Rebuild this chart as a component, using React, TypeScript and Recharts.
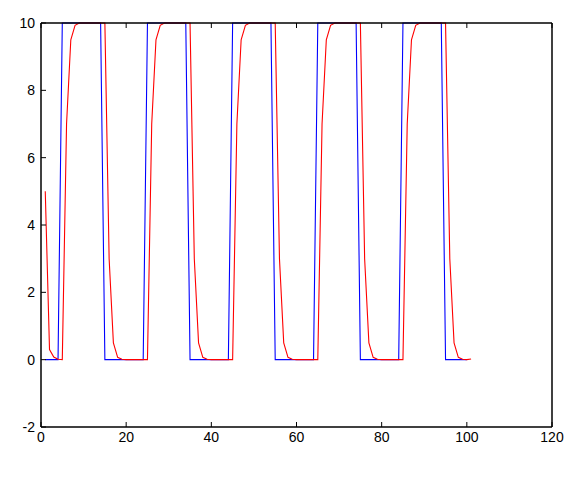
import { LineChart, Line, XAxis, YAxis } from "recharts";

const xTicks = [0, 20, 40, 60, 80, 100, 120];
const yTicks = [-2, 0, 2, 4, 6, 8, 10];

// square wave input, samples at x = 1..100
const blueValues = [
  0, 0, 0, 0,
  10, 10, 10, 10, 10, 10, 10, 10, 10, 10,
  0, 0, 0, 0, 0, 0, 0, 0, 0, 0,
  10, 10, 10, 10, 10, 10, 10, 10, 10, 10,
  0, 0, 0, 0, 0, 0, 0, 0, 0, 0,
  10, 10, 10, 10, 10, 10, 10, 10, 10, 10,
  0, 0, 0, 0, 0, 0, 0, 0, 0, 0,
  10, 10, 10, 10, 10, 10, 10, 10, 10, 10,
  0, 0, 0, 0, 0, 0, 0, 0, 0, 0,
  10, 10, 10, 10, 10, 10, 10, 10, 10, 10,
  0, 0, 0, 0, 0, 0,
];

// lagged response, samples at x = 1..101
const redValues = [
  5, 0.3, 0.08, 0.01, 0,
  7, 9.5, 9.93, 10, 10, 10, 10, 10, 10, 10,
  3, 0.5, 0.07, 0.01, 0, 0, 0, 0, 0, 0,
  7, 9.5, 9.93, 10, 10, 10, 10, 10, 10, 10,
  3, 0.5, 0.07, 0.01, 0, 0, 0, 0, 0, 0,
  7, 9.5, 9.93, 10, 10, 10, 10, 10, 10, 10,
  3, 0.5, 0.07, 0.01, 0, 0, 0, 0, 0, 0,
  7, 9.5, 9.93, 10, 10, 10, 10, 10, 10, 10,
  3, 0.5, 0.07, 0.01, 0, 0, 0, 0, 0, 0,
  7, 9.5, 9.93, 10, 10, 10, 10, 10, 10, 10,
  3, 0.5, 0.07, 0.01, 0, 0.02,
];

const rows = redValues.map((r, i) => ({ x: i + 1, red: r, blue: blueValues[i] }));

const FONT = "'Liberation Sans', Arial, Helvetica, sans-serif";
const TICK = 5;
const frame = { stroke: "#000", strokeWidth: 1.5 };

function BottomTick({ x, y, payload }: any) {
  return (
    <g>
      <line x1={x} y1={y} x2={x} y2={y - TICK} stroke="#000" />
      <text x={x} y={y + 15} textAnchor="middle" fontSize={14} fontFamily={FONT} fill="#000">
        {payload.value}
      </text>
    </g>
  );
}

function LeftTick({ x, y, payload }: any) {
  return (
    <g>
      <line x1={x} y1={y} x2={x + TICK} y2={y} stroke="#000" />
      <text x={x - 6} y={y + 5} textAnchor="end" fontSize={14} fontFamily={FONT} fill="#000">
        {payload.value}
      </text>
    </g>
  );
}

function TopTick({ x, y }: any) {
  return <line x1={x} y1={y} x2={x} y2={y + TICK} stroke="#000" />;
}

function RightTick({ x, y }: any) {
  return <line x1={x} y1={y} x2={x - TICK} y2={y} stroke="#000" />;
}

export default function App() {
  return (
    <div style={{ position: "absolute", left: 0, top: 0, background: "#fff" }}>
      <LineChart width={578} height={479} data={rows} margin={{ top: 22, right: 25, bottom: 51, left: 40 }}>
        <XAxis
          dataKey="x"
          type="number"
          domain={[0, 120]}
          ticks={xTicks}
          height={1}
          tickSize={0}
          tickMargin={0}
          tickLine={false}
          axisLine={frame}
          tick={<BottomTick />}
        />
        <XAxis
          xAxisId="top"
          orientation="top"
          dataKey="x"
          type="number"
          domain={[0, 120]}
          ticks={xTicks}
          height={1}
          tickSize={0}
          tickMargin={0}
          tickLine={false}
          axisLine={frame}
          tick={<TopTick />}
        />
        <YAxis
          type="number"
          domain={[-2, 10]}
          ticks={yTicks}
          width={1}
          tickSize={0}
          tickMargin={0}
          tickLine={false}
          axisLine={frame}
          tick={<LeftTick />}
        />
        <YAxis
          yAxisId="right"
          orientation="right"
          type="number"
          domain={[-2, 10]}
          ticks={yTicks}
          width={1}
          tickSize={0}
          tickMargin={0}
          tickLine={false}
          axisLine={frame}
          tick={<RightTick />}
        />
        <Line dataKey="blue" stroke="#0000ff" strokeWidth={1.1} dot={false} isAnimationActive={false} />
        <Line dataKey="red" stroke="#ff0000" strokeWidth={1.1} dot={false} isAnimationActive={false} />
      </LineChart>
    </div>
  );
}
